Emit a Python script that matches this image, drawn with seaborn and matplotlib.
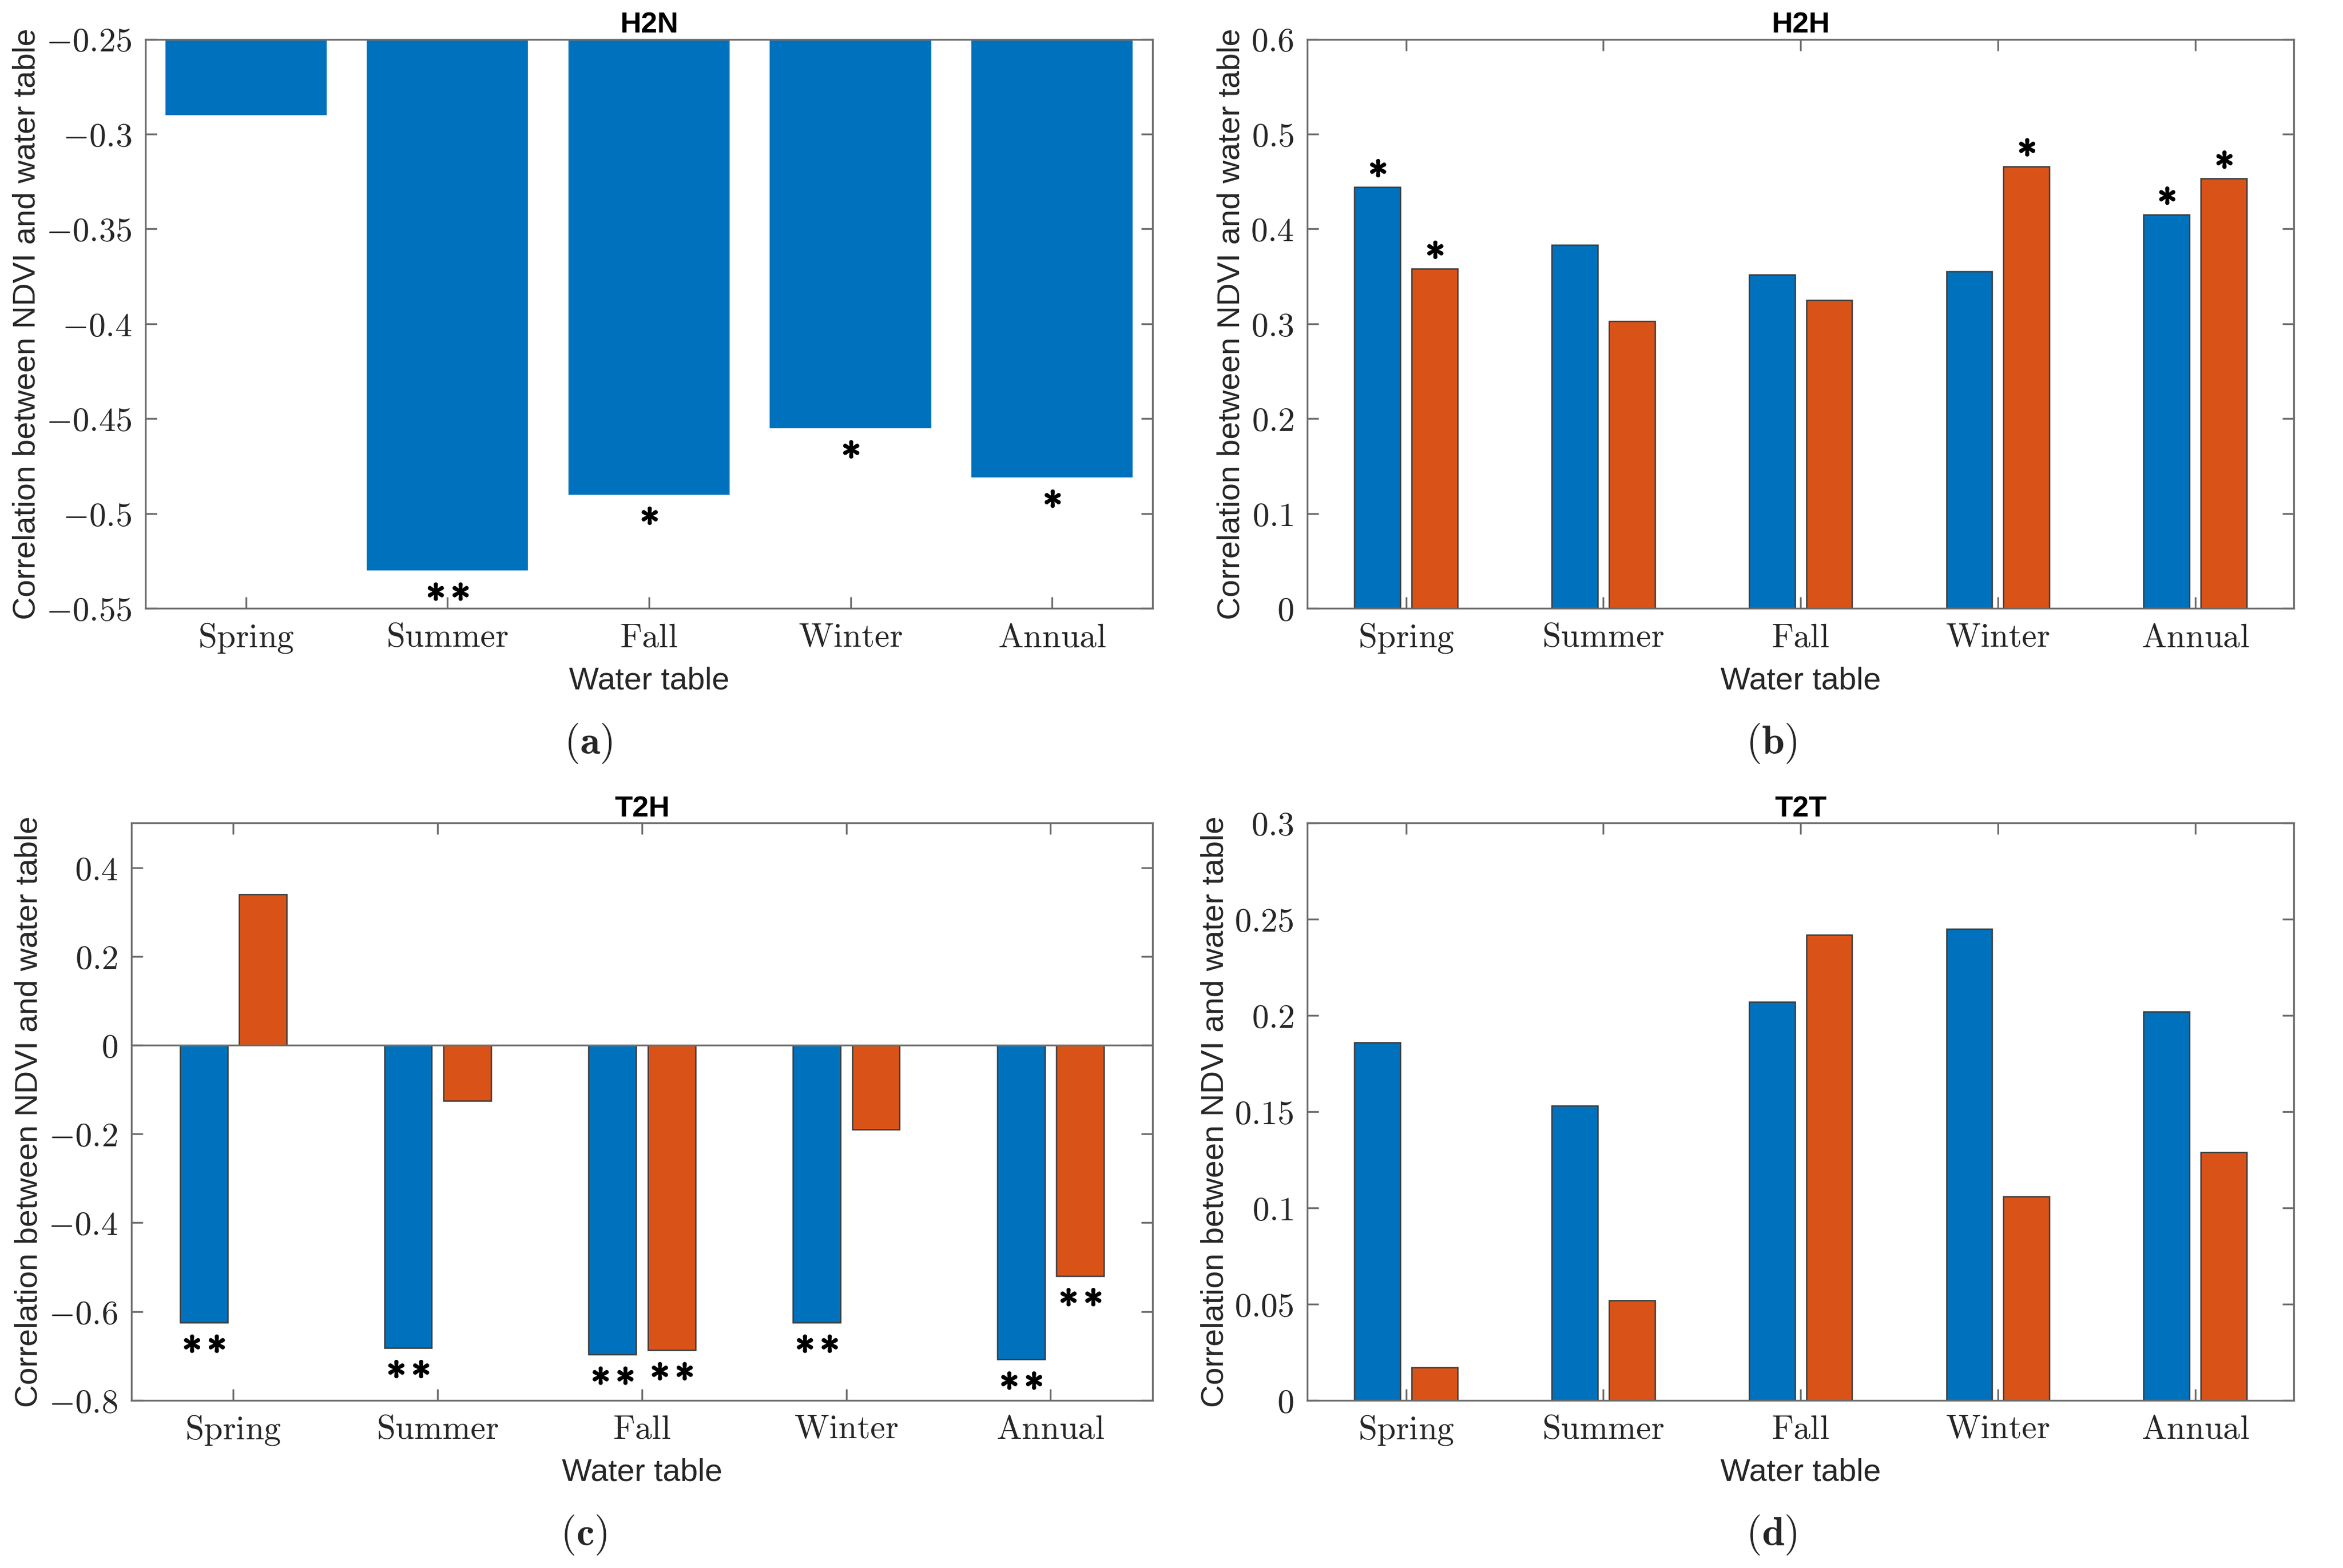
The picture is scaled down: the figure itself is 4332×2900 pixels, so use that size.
import numpy as np
import pandas as pd
import matplotlib
matplotlib.use("Agg")
import matplotlib.pyplot as plt
import matplotlib.patheffects as pe
import seaborn as sns

# ---------------- data ----------------
seasons = ["Spring", "Summer", "Fall", "Winter", "Annual"]

h2n_vals = [-0.290, -0.530, -0.490, -0.455, -0.481]
h2n_sig = ["", "**", "*", "*", "*"]

h2h_blue = [0.444, 0.383, 0.352, 0.355, 0.415]
h2h_orange = [0.358, 0.303, 0.325, 0.466, 0.453]
h2h_sig_blue = ["*", "", "", "", "*"]
h2h_sig_orange = ["*", "", "", "*", "*"]

t2h_blue = [-0.625, -0.682, -0.697, -0.625, -0.708]
t2h_orange = [0.340, -0.126, -0.687, -0.190, -0.520]
t2h_sig_blue = ["**", "**", "**", "**", "**"]
t2h_sig_orange = ["", "", "**", "", "**"]

t2t_blue = [0.186, 0.153, 0.207, 0.245, 0.202]
t2t_orange = [0.017, 0.052, 0.242, 0.106, 0.129]

titles = ["H2N", "H2H", "T2H", "T2T"]
panel_letters = ["a", "b", "c", "d"]
ylabel = "Correlation between NDVI and water table"
xlabel = "Water table"

h2n_yticks = [-0.55, -0.5, -0.45, -0.4, -0.35, -0.3, -0.25]
h2h_yticks = [0, 0.1, 0.2, 0.3, 0.4, 0.5, 0.6]
t2h_yticks = [-0.8, -0.6, -0.4, -0.2, 0, 0.2, 0.4]
t2t_yticks = [0, 0.05, 0.1, 0.15, 0.2, 0.25, 0.3]

BLUE = "#0072BD"
ORANGE = "#D95319"

# ---------------- style ----------------
sns.set_style("white")
plt.rcParams["font.family"] = ["Liberation Sans", "DejaVu Sans"]
plt.rcParams["mathtext.fontset"] = "cm"

fig = plt.figure(figsize=(4332 / 300, 2900 / 300), dpi=300)

axes_rects = [
    [0.062, 0.612, 0.430, 0.363],
    [0.558, 0.612, 0.421, 0.363],
    [0.056, 0.107, 0.436, 0.368],
    [0.558, 0.107, 0.421, 0.368],
]
label_x = [0.251, 0.756, 0.249, 0.756]
axs = [fig.add_axes(r) for r in axes_rects]

GROUP_W = 0.58
GAP = 0.2


def fmt(v):
    s = "%g" % v
    return "$" + s + "$"


def style_axes(ax, yticks, ylim, title, letter, lx):
    ax.set_xlim(-0.5, len(seasons) - 0.5)
    ax.set_ylim(*ylim)
    ax.set_yticks(yticks)
    ax.set_yticklabels([fmt(v) for v in yticks], fontsize=15)
    ax.set_xticks(range(len(seasons)))
    ax.set_xticklabels([r"$\mathrm{" + s + "}$" for s in seasons], fontsize=15)
    for sp in ax.spines.values():
        sp.set_visible(True)
        sp.set_color("#6e6e6e")
        sp.set_linewidth(0.8)
    ax.tick_params(axis="both", direction="in", length=5, width=0.8,
                   color="#6e6e6e", top=True, right=True, bottom=True, left=True,
                   pad=6, labelcolor="#262626")
    ax.set_ylabel(ylabel, fontsize=14, color="#262626", labelpad=2)
    ax.set_xlabel(xlabel, fontsize=14, color="#262626", labelpad=5)
    ax.set_title(title, fontsize=13, fontweight="bold", color="#000000", pad=3)
    bb = ax.get_position()
    fig.text(lx, bb.y0 - 0.086, r"$(\mathbf{" + letter + "})$",
             ha="center", va="center", fontsize=18)


STAR_FX = [pe.withStroke(linewidth=0.9, foreground="black")]


def star(ax, x, val, s):
    if not s:
        return
    txt = r"$" + r"\,".join([r"{\ast}"] * len(s)) + "$"
    if val < 0:
        ax.annotate(txt, xy=(x, val), xytext=(0, -1.5), textcoords="offset points",
                    ha="center", va="top", fontsize=17, color="black",
                    path_effects=STAR_FX)
    else:
        ax.annotate(txt, xy=(x, val), xytext=(0, 0.5), textcoords="offset points",
                    ha="center", va="bottom", fontsize=17, color="black",
                    path_effects=STAR_FX)


def grouped(ax, blue, orange):
    df = pd.DataFrame({
        "season": seasons * 2,
        "series": ["A"] * len(seasons) + ["B"] * len(seasons),
        "value": list(blue) + list(orange),
    })
    sns.barplot(data=df, x="season", y="value", hue="series", order=seasons,
                hue_order=["A", "B"], palette=[BLUE, ORANGE], saturation=1,
                width=GROUP_W, gap=GAP, edgecolor="#3a3a3a", linewidth=0.6,
                errorbar=None, legend=False, ax=ax, zorder=2)


# ---- (a) H2N ----
ax = axs[0]
dfa = pd.DataFrame({"season": seasons, "value": h2n_vals})
sns.barplot(data=dfa, x="season", y="value", order=seasons, color=BLUE,
            saturation=1, width=0.8, linewidth=0, errorbar=None, ax=ax)
for i, (v, s) in enumerate(zip(h2n_vals, h2n_sig)):
    star(ax, i, v, s)
style_axes(ax, h2n_yticks, (-0.55, -0.25), titles[0], panel_letters[0], label_x[0])

# ---- (b) H2H ----
ax = axs[1]
grouped(ax, h2h_blue, h2h_orange)
off = GROUP_W / 4
for i in range(len(seasons)):
    star(ax, i - off, h2h_blue[i], h2h_sig_blue[i])
    star(ax, i + off, h2h_orange[i], h2h_sig_orange[i])
style_axes(ax, h2h_yticks, (0, 0.6), titles[1], panel_letters[1], label_x[1])

# ---- (c) T2H ----
ax = axs[2]
grouped(ax, t2h_blue, t2h_orange)
ax.axhline(0, color="#6e6e6e", lw=0.8, zorder=3)
for i in range(len(seasons)):
    star(ax, i - off, t2h_blue[i], t2h_sig_blue[i])
    star(ax, i + off, t2h_orange[i], t2h_sig_orange[i])
style_axes(ax, t2h_yticks, (-0.8, 0.5), titles[2], panel_letters[2], label_x[2])

# ---- (d) T2T ----
ax = axs[3]
grouped(ax, t2t_blue, t2t_orange)
style_axes(ax, t2t_yticks, (0, 0.3), titles[3], panel_letters[3], label_x[3])

fig.savefig("out.png", dpi=300, facecolor="white")
